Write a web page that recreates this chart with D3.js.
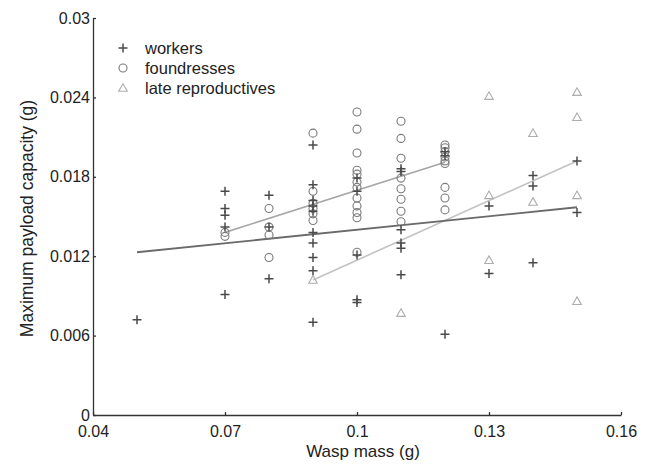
<!DOCTYPE html>
<html>
<head>
<meta charset="utf-8">
<script src="https://cdn.jsdelivr.net/npm/d3@7"></script>
<style>
  body { margin: 0; background: #fff; }
  svg { display: block; font-family: "Liberation Sans", Arial, sans-serif; }
  .axis path, .axis line { stroke: #333; stroke-width: 1.3; }
  .axis text { font-size: 16px; fill: #222; }
</style>
</head>
<body>
<svg id="vis" width="646" height="469"></svg>
<script>
// data: [wasp mass (g), max payload (g)]
const workers = [
  [0.05, 0.0072],
  [0.07, 0.0169], [0.07, 0.0156], [0.07, 0.0151], [0.07, 0.0142], [0.07, 0.0091],
  [0.08, 0.0166], [0.08, 0.0142], [0.08, 0.0103],
  [0.09, 0.0204], [0.09, 0.0174], [0.09, 0.0162], [0.09, 0.0158], [0.09, 0.0154],
  [0.09, 0.0138], [0.09, 0.0130], [0.09, 0.0119], [0.09, 0.0109], [0.09, 0.0070],
  [0.1, 0.0179], [0.1, 0.0169], [0.1, 0.0121], [0.1, 0.0087], [0.1, 0.0085],
  [0.11, 0.0186], [0.11, 0.0184], [0.11, 0.0140], [0.11, 0.0130], [0.11, 0.0126], [0.11, 0.0106],
  [0.12, 0.0199], [0.12, 0.0196], [0.12, 0.0061],
  [0.13, 0.0158], [0.13, 0.0107],
  [0.14, 0.0181], [0.14, 0.0173], [0.14, 0.0115],
  [0.15, 0.0192], [0.15, 0.0153]
];
const foundresses = [
  [0.07, 0.0138], [0.07, 0.0135],
  [0.08, 0.0156], [0.08, 0.0142], [0.08, 0.0136], [0.08, 0.0119],
  [0.09, 0.0213], [0.09, 0.0169], [0.09, 0.0160], [0.09, 0.0156], [0.09, 0.0152], [0.09, 0.0147],
  [0.1, 0.0229], [0.1, 0.0216], [0.1, 0.0198], [0.1, 0.0185], [0.1, 0.0182], [0.1, 0.0176],
  [0.1, 0.0172], [0.1, 0.0164], [0.1, 0.0158], [0.1, 0.0153], [0.1, 0.0149], [0.1, 0.0123],
  [0.11, 0.0222], [0.11, 0.0209], [0.11, 0.0194], [0.11, 0.0179], [0.11, 0.0171],
  [0.11, 0.0163], [0.11, 0.0154], [0.11, 0.0146],
  [0.12, 0.0204], [0.12, 0.0202], [0.12, 0.0199], [0.12, 0.0195], [0.12, 0.0192],
  [0.12, 0.0190], [0.12, 0.0172], [0.12, 0.0164], [0.12, 0.0155]
];
const lateReproductives = [
  [0.09, 0.0102], [0.11, 0.0077],
  [0.13, 0.0241], [0.13, 0.0166], [0.13, 0.0117],
  [0.14, 0.0213], [0.14, 0.0161],
  [0.15, 0.0244], [0.15, 0.0225], [0.15, 0.0166], [0.15, 0.0086]
];
// fitted lines, end points
const workerFit = [[0.05, 0.0123], [0.15, 0.0157]];
const foundressFit = [[0.07, 0.0138], [0.12, 0.0191]];
const lateFit = [[0.09, 0.0102], [0.15, 0.0192]];

const xTicks = [0.04, 0.07, 0.1, 0.13, 0.16];
const xTickLabels = ["0.04", "0.07", "0.1", "0.13", "0.16"];
const yTicks = [0, 0.006, 0.012, 0.018, 0.024, 0.03];
const yTickLabels = ["0", "0.006", "0.012", "0.018", "0.024", "0.03"];
const legendLabels = ["workers", "foundresses", "late reproductives"];

const svg = d3.select("#vis");
const x = d3.scaleLinear().domain([0.04, 0.16]).range([93, 621]);
const y = d3.scaleLinear().domain([0, 0.03]).range([415, 18]);

const colors = { worker: "#4a4a4a", found: "#7a7a7a", late: "#adadad" };

// axes, ticks point inward
svg.append("g").attr("class", "axis")
  .attr("transform", `translate(0,${y(0)})`)
  .call(d3.axisBottom(x).tickValues(xTicks).tickSizeInner(-3).tickSizeOuter(0)
    .tickPadding(11).tickFormat((d, i) => xTickLabels[i]));

svg.append("g").attr("class", "axis")
  .attr("transform", `translate(${x(0.04)},0)`)
  .call(d3.axisLeft(y).tickValues(yTicks).tickSizeInner(-3).tickSizeOuter(0)
    .tickPadding(3).tickFormat((d, i) => yTickLabels[i]));

svg.selectAll(".axis text").attr("font-family", "Liberation Sans, Arial, sans-serif");

svg.append("text")
  .attr("x", 363).attr("y", 457)
  .attr("text-anchor", "middle").attr("font-size", 17).attr("fill", "#222")
  .text("Wasp mass (g)");
svg.append("text")
  .attr("transform", `translate(33,${(y(0) + y(0.03)) / 2 + 2}) rotate(-90)`)
  .attr("text-anchor", "middle").attr("font-size", 17.5).attr("fill", "#222")
  .text("Maximum payload capacity (g)");

// fit lines
const line = d3.line().x(d => x(d[0])).y(d => y(d[1]));
svg.append("path").attr("d", line(lateFit)).attr("stroke", "#c2c2c2").attr("stroke-width", 1.6).attr("fill", "none");
svg.append("path").attr("d", line(foundressFit)).attr("stroke", "#a6a6a6").attr("stroke-width", 1.6).attr("fill", "none");
svg.append("path").attr("d", line(workerFit)).attr("stroke", "#6a6a6a").attr("stroke-width", 1.8).attr("fill", "none");

// markers
const plus = "M-4.5,0H4.5M0,-4.5V4.5";
const tri = "M0,-4.3L4.3,3.3H-4.3Z";

svg.append("g").selectAll("path").data(lateReproductives).join("path")
  .attr("transform", d => `translate(${x(d[0])},${y(d[1])})`)
  .attr("d", tri).attr("fill", "none").attr("stroke", colors.late).attr("stroke-width", 1.1);

svg.append("g").selectAll("circle").data(foundresses).join("circle")
  .attr("cx", d => x(d[0])).attr("cy", d => y(d[1])).attr("r", 4)
  .attr("fill", "none").attr("stroke", colors.found).attr("stroke-width", 1.1);

svg.append("g").selectAll("path").data(workers).join("path")
  .attr("transform", d => `translate(${x(d[0])},${y(d[1])})`)
  .attr("d", plus).attr("stroke", colors.worker).attr("stroke-width", 1.5);

// legend
const legend = svg.append("g").attr("transform", "translate(123,48)");
legendLabels.forEach((label, i) => {
  const g = legend.append("g").attr("transform", `translate(0,${i * 20})`);
  if (i === 0) g.append("path").attr("d", plus).attr("stroke", colors.worker).attr("stroke-width", 1.5);
  if (i === 1) g.append("circle").attr("r", 4).attr("fill", "none").attr("stroke", colors.found).attr("stroke-width", 1.1);
  if (i === 2) g.append("path").attr("d", tri).attr("fill", "none").attr("stroke", colors.late).attr("stroke-width", 1.1);
  g.append("text").attr("x", 22).attr("dy", "0.35em").attr("font-size", 16.5).attr("fill", "#222").text(label);
});
</script>
</body>
</html>
